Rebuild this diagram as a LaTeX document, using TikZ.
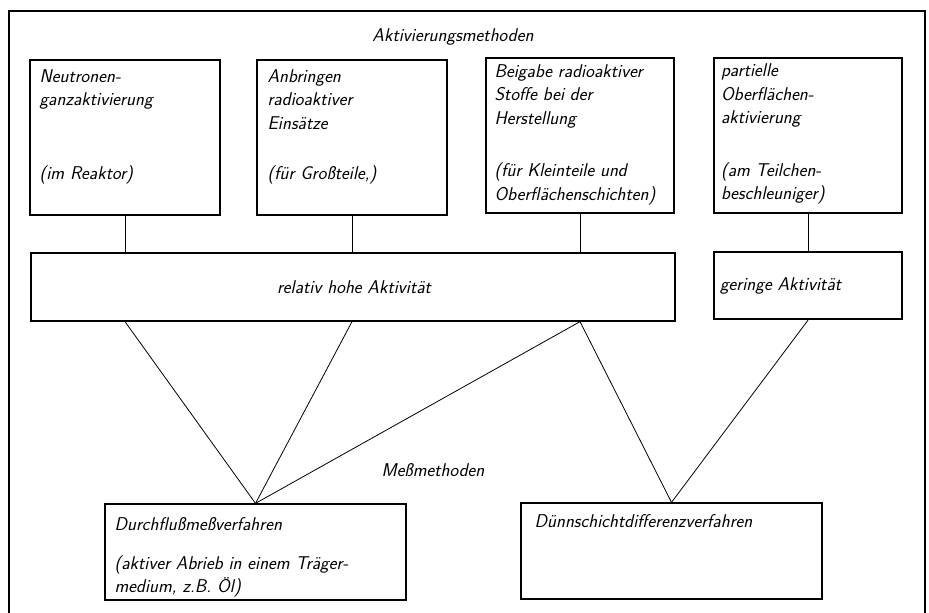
\documentclass[tikz,border=0pt]{standalone}
\usepackage{fontspec}

\begin{document}
\begin{tikzpicture}[
    x=1pt, y=-1pt,
    box/.style={draw, line width=1.3pt, inner sep=0pt},
    heavy box/.style={box, line width=2.4pt},
    note/.style={font=\fontsize{18.5}{23.5}\selectfont\sffamily\itshape, align=left, inner sep=0pt},
    link/.style={-, line width=0.8pt},
    frame line/.style={line width=1.3pt}
]
\useasboundingbox (0,0) rectangle (929,613);

% Frame
\draw[frame line] (9,613) -- (9,11) -- (925,11) -- (925,613);

% Title
\node[note] (title) at (453,37) {Aktivierungsmethoden};

% Activation methods
\node[box, minimum width=190pt, minimum height=155pt] (neutron) at (125,137.5) {};
\node[box, minimum width=190pt, minimum height=155pt] (einsatz) at (352,137.5) {};
\node[box, minimum width=188pt, minimum height=155pt] (beigabe) at (580,135.5) {};
\node[heavy box, minimum width=188pt, minimum height=155pt] (partiell) at (808,135.5) {};

\node[note, anchor=north west] (neutron text) at ([shift={(10,10)}]neutron.north west)
    {Neutronen-\\ganzaktivierung\\[50pt](im Reaktor)};
\node[note, anchor=north west] (einsatz text) at ([shift={(11,10)}]einsatz.north west)
    {Anbringen\\radioaktiver\\Einsätze\\[27pt](für Großteile,)};
\node[note, anchor=north west] (beigabe text) at ([shift={(9,7)}]beigabe.north west)
    {Beigabe radioaktiver\\Stoffe bei der\\Herstellung\\[29pt](für Kleinteile und\\Oberflächenschichten)};
\node[note, anchor=north west] (partiell text) at ([shift={(8,7)}]partiell.north west)
    {partielle\\Oberflächen-\\aktivierung\\[29pt](am Teilchen-\\beschleuniger)};

% Activity levels
\node[box, minimum width=644pt, minimum height=68pt] (hoch) at (353,287) {};
\node[note] (hoch text) at (354,287) {relativ hohe Aktivität};
\node[heavy box, minimum width=188pt, minimum height=67pt] (gering) at (808,285.5) {};
\node[note, anchor=west] (gering text) at ([xshift=7pt]gering.west) {geringe Aktivität};

\draw[link] (neutron.south) -- (neutron.south |- hoch.north);
\draw[link] (einsatz.south) -- (einsatz.south |- hoch.north);
\draw[link] (beigabe.south) -- (beigabe.south |- hoch.north);
\draw[link] (partiell.south) -- (gering.north);

% Measuring methods
\node[note] (mess) at (433,470) {Meßmethoden};
\node[box, minimum width=301pt, minimum height=96pt] (durch) at (255.5,552) {};
\node[box, minimum width=301pt, minimum height=96pt] (duenn) at (671.5,551) {};

\node[note, anchor=north west] (durch text) at ([shift={(10,14)}]durch.north west)
    {Durchflußmeßverfahren\\[15pt](aktiver Abrieb in einem Träger-\\medium, z.B. Öl)};
\node[note, anchor=north west] (duenn text) at ([shift={(14,12)}]duenn.north west)
    {Dünnschichtdifferenzverfahren};

\draw[link] (neutron.south |- hoch.south) -- (durch.north);
\draw[link] (einsatz.south |- hoch.south) -- (durch.north);
\draw[link] (beigabe.south |- hoch.south) -- (durch.north);
\draw[link] (beigabe.south |- hoch.south) -- (duenn.north);
\draw[link] (gering.south) -- (duenn.north);

\end{tikzpicture}
\end{document}
